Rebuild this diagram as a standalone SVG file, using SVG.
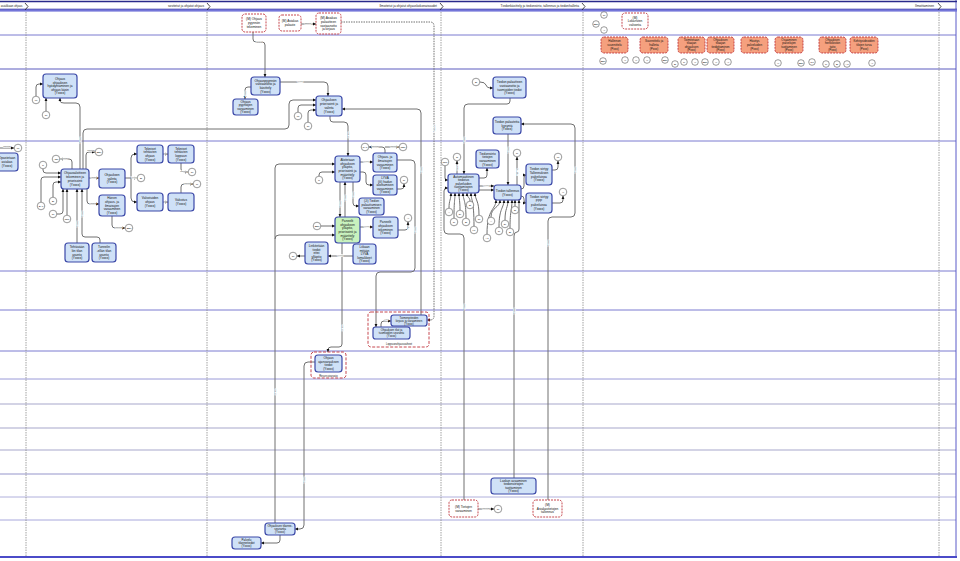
<svg xmlns="http://www.w3.org/2000/svg" width="960" height="561" viewBox="0 0 960 561">
<defs>
<marker id="a" viewBox="0 0 6 6" refX="5.6" refY="3" markerWidth="3.6" markerHeight="3.6" markerUnits="userSpaceOnUse" orient="auto"><path d="M0,0.4 L6,3 L0,5.6 z" fill="#111"/></marker>
</defs>
<style>
.b{fill:#cfe1f7;stroke:#3b48a8;stroke-width:1.2}
.g{fill:#c8f2be;stroke:#3b48a8;stroke-width:1.2}
.m{fill:#fff;stroke:#c0343c;stroke-width:0.9;stroke-dasharray:2 1}
.o{fill:#f5a07e;stroke:#c0343c;stroke-width:0.9;stroke-dasharray:2 1}
.grp{fill:none;stroke:#c0343c;stroke-width:0.9;stroke-dasharray:3 1.5}
.c{fill:#fff;stroke:#555;stroke-width:0.6}
.t{font-family:"Liberation Sans",Arial,sans-serif;font-size:3.2px;fill:#111;text-anchor:middle}
.ct{font-family:"Liberation Sans",Arial,sans-serif;font-size:2.5px;fill:#111;text-anchor:middle}
.l{fill:none;stroke:#707070;stroke-width:1;marker-end:url(#a)}
.d{stroke-dasharray:1.5 1}
.lab{font-family:"Liberation Sans",Arial,sans-serif;font-size:2.2px;fill:#444;text-anchor:middle;stroke:#fff;stroke-width:0.8;paint-order:stroke}
.hd{font-family:"Liberation Sans",Arial,sans-serif;font-size:3.2px;fill:#222;text-anchor:end}
.ln{stroke:#7b7bd0;stroke-width:1}
.lg{stroke:#c4c4dc;stroke-width:1.5}
.vd{stroke:#8a8a8a;stroke-width:0.8;stroke-dasharray:1.5 1}
.gl{font-family:"Liberation Sans",Arial,sans-serif;font-size:2.6px;fill:#222;text-anchor:middle}
</style>
<rect width="960" height="561" fill="#fff"/>

<g id="lanes">
<line class="ln" x1="0" y1="35" x2="956" y2="35"/>
<line x1="0" y1="69" x2="956" y2="69" stroke="#5c5cc0" stroke-width="1.2"/>
<line class="ln" x1="0" y1="141" x2="956" y2="141"/>
<line class="ln" x1="0" y1="271" x2="956" y2="271"/>
<line class="ln" x1="0" y1="310" x2="956" y2="310"/>
<line class="ln" x1="0" y1="351" x2="956" y2="351"/>
<line x1="0" y1="379" x2="956" y2="379" stroke="#9a9ad8" stroke-width="1"/>
<line class="lg" x1="0" y1="404" x2="956" y2="404"/>
<line class="lg" x1="0" y1="428" x2="956" y2="428"/>
<line class="lg" x1="0" y1="450" x2="956" y2="450"/>
<line x1="0" y1="474" x2="956" y2="474" stroke="#b8b8dc" stroke-width="1.5"/>
<line x1="0" y1="497" x2="956" y2="497" stroke="#b0b0dc" stroke-width="1"/>
<line x1="0" y1="520" x2="956" y2="520" stroke="#a8a8dc" stroke-width="1"/>
<line class="vd" x1="26" y1="12" x2="26" y2="556"/>
<line class="vd" x1="207" y1="12" x2="207" y2="556"/>
<line class="vd" x1="441" y1="12" x2="441" y2="556"/>
<line class="vd" x1="583" y1="12" x2="583" y2="556"/>
<line class="vd" x1="939" y1="12" x2="939" y2="556"/>
<line x1="956" y1="0" x2="956" y2="558" stroke="#5a5ac8" stroke-width="1"/>
<line x1="0" y1="557" x2="957" y2="557" stroke="#4b4bc8" stroke-width="2"/>
</g>

<g id="header">
<line x1="0" y1="1.5" x2="957" y2="1.5" stroke="#2a2a8a" stroke-width="1.5"/>
<rect x="0" y="9" width="957" height="2.6" fill="#7476d9"/>
<line x1="0" y1="9" x2="957" y2="9" stroke="#3a3aa0" stroke-width="0.6"/>
<polyline points="25,3 28,6.5 25,10" fill="none" stroke="#222" stroke-width="0.8"/>
<polyline points="207,3 210,6.5 207,10" fill="none" stroke="#222" stroke-width="0.8"/>
<polyline points="440,3 443,6.5 440,10" fill="none" stroke="#222" stroke-width="0.8"/>
<polyline points="582,3 585,6.5 582,10" fill="none" stroke="#222" stroke-width="0.8"/>
<polyline points="938,3 941,6.5 938,10" fill="none" stroke="#222" stroke-width="0.8"/>
<text class="hd" x="0.8" y="7" style="text-anchor:start;font-size:2.8px">asiakkaan ohjaus</text>
<text class="hd" x="204" y="7">sovitetut ja ohjatut ohjaus</text>
<text class="hd" x="437" y="7">Ilmoitetut ja ohjatut ohjauskokonaisuudet</text>
<text class="hd" x="579" y="7">Tiedonkäsittely ja tiedonsiirto, tallennus ja tiedonhallinta</text>
<text class="hd" x="934" y="7">Ilmoittaminen</text>
</g>

<g id="connectors">
<path class="l" d="M0,148 H14"/>
<path class="l" d="M80,169 V107 Q80,103 76,103 H64 Q60,103 60,101 V98"/>
<path class="l" d="M36,96 V87 Q36,84 39,84 H43"/>
<path class="l" d="M46,111 V98"/>
<path class="l" d="M83,169 V133 Q83,129 87,129 H285 Q289,129 289,125 V104 Q289,100 293,100 H316"/>
<path class="l" d="M72,169 V162 Q72,159 69,159 H60"/>
<path class="l" d="M86,169 V155 Q86,152 89,152 H95"/>
<path class="l" d="M43,169 V170 Q43,173 46,173 H61"/>
<path class="l" d="M41,202 V180 Q41,177 44,177 H61"/>
<path class="l" d="M53,197 V185 Q53,182 56,182 H61"/>
<path class="l" d="M57,214 H60 Q63,214 63,211 V189"/>
<path class="l" d="M67,215 V189"/>
<path class="l" d="M77,243 V189"/>
<path class="l" d="M100,243 V240 Q100,237 97,237 H85 Q82,237 82,234 V189"/>
<path class="l" d="M89,178 H99"/>
<path class="l" d="M87,189 V201 Q87,204 90,204 H99"/>
<path class="l" d="M112,216 V225 Q112,228 115,228 H125"/>
<path class="l" d="M125,178 H137"/>
<path class="l" d="M131,178 V158 Q131,154 135,154 H137"/>
<path class="l" d="M131,178 V198 Q131,202 135,202 H137"/>
<path class="l" d="M163,154 H168"/>
<path class="l" d="M181,163 V169 Q181,172 184,172 H188"/>
<path class="l" d="M163,202 H168"/>
<path class="l" d="M181,193 V187 Q181,184 184,184 H193"/>

<path class="l" d="M253,32 V39 Q253,42 256,42 H262 Q265,42 265,45 V77"/>
<path class="l" d="M301,24 H316"/>
<path class="l" d="M251,87 H248 Q245,87 245,90 V99"/>
<path class="l" d="M280,82 H324 Q328,82 328,86 V96"/>
<path class="l" d="M298,112 V108 Q298,105 301,105 H316"/>
<path class="l" d="M308,122 V113 Q308,110 311,110 H316"/>
<path class="l" d="M421,315 V113 Q421,109 417,109 H342"/>
<path class="l d" d="M341,22 H430 Q434,22 434,26 V316 Q434,320 430,320 H427"/>
<path class="l" d="M330,116 V119 Q330,122 333,122 H344 Q348,122 348,126 V156"/>
<path class="l" d="M275,523 V168 Q275,164 279,164 H335"/>
<path class="l" d="M275,239 Q275,235 279,235 H335"/>
<path class="l" d="M315,362 H308 Q304,362 304,366 V525 Q304,529 300,529 H295"/>
<path class="l" d="M342,243 V344 Q342,347 339,347 H331 Q328,347 328,350 V352"/>
<path class="l" d="M360,162 H373"/>
<path class="l" d="M360,172 H363 Q366,172 366,175 V182 Q366,185 369,185 H373"/>
<path class="l" d="M385,153 V150 Q385,147 382,147 H369"/>
<path class="l" d="M385,147 H399"/>
<path class="l" d="M397,189 H401 Q404,189 404,186 V184"/>
<path class="l" d="M319,176 V175 Q319,172 322,172 H335"/>
<path class="l" d="M353,182 V203 Q353,206 356,206 H359"/>
<path class="l" d="M340,182 V217"/>
<path class="l" d="M345,217 V182"/>
<path class="l" d="M321,226 H335"/>
<path class="l" d="M360,227 H373"/>
<path class="l" d="M398,230 H405 Q408,230 408,227 V222"/>
<path class="l" d="M305,256 H297"/>
<path class="l" d="M353,256 H328"/>
<path class="l" d="M397,160 H411 Q415,160 415,164 V268 Q415,272 411,272 H380 Q376,272 376,276 V327"/>
<path class="l" d="M381,327 V324 Q381,321 384,321 H391"/>
<path class="l" d="M280,535 V540 Q280,543 277,543 H261"/>

<path class="l" d="M480,82 Q485,82 486,85 Q487,88 490,88 H493"/>
<path class="l" d="M510,98 V101 Q510,104 507,104 H468 Q464,104 464,108 V174"/>
<path class="l" d="M508,134 V185"/>
<path class="l" d="M548,500 V221 Q548,217 552,217 H571 Q575,217 575,213 V128 Q575,124 571,124 H521"/>
<path class="l" d="M514,478 V236 Q514,232 517,232 Q519,232 519,229 V200"/>
<path class="l" d="M464,500 V238 Q464,234 460,234 H448 Q444,234 444,230 V191 Q444,188 447,188 H448"/>
<path class="l" d="M478,509 H494"/>
<path class="l" d="M445,166 V178 Q445,180 447,180 H448"/>
<path class="l" d="M457,174 V161"/>
<path class="l" d="M479,178 H484 Q487,178 487,175 V168"/>
<path class="l" d="M479,186 H494"/>
<path class="l" d="M479,190 H494"/>
<path class="l" d="M517,185 V157"/>
<path class="l" d="M521,189 Q524,189 524,186 V178 Q524,175 526,175"/>
<path class="l" d="M521,196 Q524,196 524,199 V200 Q524,203 526,203"/>
<path class="l" d="M552,170 H555 Q558,170 558,167 V161"/>
<path class="l" d="M552,203 H560 Q563,203 563,200 V196"/>
<path class="l" d="M449,208 C449,200 451,200 451,193"/>
<path class="l" d="M454,218 C454,200 455,200 455,193"/>
<path class="l" d="M460,210 C460,200 459,200 459,193"/>
<path class="l" d="M466,218 C466,200 463,200 463,193"/>
<path class="l" d="M470,201 C470,197 467,198 467,193"/>
<path class="l" d="M474,226 C474,200 471,200 471,193"/>
<path class="l" d="M479,215 C479,200 475,200 475,193"/>
<path class="l" d="M487,234 C487,208 496,210 496,200"/>
<path class="l" d="M491,217 C491,207 500,208 500,200"/>
<path class="l" d="M499,227 C499,208 504,208 504,200"/>
<path class="l" d="M505,220 C505,208 508,208 508,200"/>
<path class="l" d="M510,228 C510,210 512,210 512,200"/>
<path class="l" d="M515,206 V200"/>

<text class="lab" x="7" y="147">ilmoitus</text>
<text class="lab" transform="translate(80.8,140) rotate(-90)">Yxxxx</text>
<text class="lab" x="64" y="158.5">ilmoitus</text>
<text class="lab" x="91" y="151">ilmoitus</text>
<text class="lab" transform="translate(77.8,224) rotate(-90)">Yxxxx</text>
<text class="lab" transform="translate(82.8,214) rotate(-90)">Yxxxx</text>
<text class="lab" x="94" y="177.5">ohjaus</text>
<text class="lab" x="93" y="203.5">ohjaus</text>
<text class="lab" x="119" y="227.5">ilmoitus</text>
<text class="lab" x="134" y="177.5">Yxxxx</text>
<text class="lab" x="165.5" y="153.5">ohj</text>
<text class="lab" x="165.5" y="201.5">ohj</text>
<text class="lab" x="184" y="171.5">ilmoitus</text>
<text class="lab" x="188" y="183.5">ilmoitus</text>
<text class="lab" x="259" y="42.8">ohjaus</text>
<text class="lab" x="308" y="23.8">palaute</text>
<text class="lab" transform="translate(245.8,94) rotate(-90)">Yxxxx</text>
<text class="lab" x="300" y="81.8">Yxxxx</text>
<text class="lab" transform="translate(421.8,170) rotate(-90)">Yxxxx</text>
<text class="lab" transform="translate(434.8,128) rotate(-90)">palaute</text>
<text class="lab" transform="translate(348.8,135) rotate(-90)">ohjaus</text>
<text class="lab" transform="translate(275.8,392) rotate(-90)">ohjaus</text>
<text class="lab" transform="translate(304.8,480) rotate(-90)">Yxxxx</text>
<text class="lab" transform="translate(342.8,328) rotate(-90)">ohjaus</text>
<text class="lab" x="366" y="161.5">Yxxxx</text>
<text class="lab" x="375" y="146.5">ilmoitus</text>
<text class="lab" x="394" y="146.5">ilmoitus</text>
<text class="lab" transform="translate(353.8,195) rotate(-90)">Yxxxx</text>
<text class="lab" transform="translate(340.8,204) rotate(-90)">Yxxxx</text>
<text class="lab" transform="translate(345.8,198) rotate(-90)">Yxxxx</text>
<text class="lab" x="366.5" y="226.5">Yxxxx</text>
<text class="lab" transform="translate(408.8,228) rotate(-90)">ilm.</text>
<text class="lab" x="340" y="255.5">Yxxxx</text>
<text class="lab" transform="translate(415.8,230) rotate(-90)">Yxxxx</text>
<text class="lab" x="386" y="320">Yxx</text>
<text class="lab" transform="translate(464.8,140) rotate(-90)">Yxxxx</text>
<text class="lab" transform="translate(508.8,150) rotate(-90)">Yxxxx</text>
<text class="lab" transform="translate(548.8,243) rotate(-90)">Yxxxx</text>
<text class="lab" transform="translate(575.8,170) rotate(-90)">Yxxxx</text>
<text class="lab" transform="translate(514.8,311) rotate(-90)">Yxxxx</text>
<text class="lab" transform="translate(464.8,307) rotate(-90)">Yxxxx</text>
<text class="lab" x="486" y="508.5">ilmoitus</text>
<text class="lab" transform="translate(457.8,168) rotate(-90)">Yxxx</text>
<text class="lab" x="486" y="185.5">Yxxxx</text>
<text class="lab" transform="translate(517.8,172) rotate(-90)">ilmoitus</text>
</g>

<g id="n_opastetaan"><rect class="b" x="-4" y="153" width="22" height="18" rx="3"/><text class="t"><tspan x="7" y="159.3">Opastetaan</tspan><tspan x="7" dy="3.8">asiakas</tspan><tspan x="7" dy="3.8">(Yxxxx)</tspan></text></g>
<g id="n_mi0"><circle class="c" cx="18" cy="148" r="3.8"/><text class="ct" x="18" y="148.9">Mi</text></g>

<g id="n_ohjaus_kasin"><rect class="b" x="43" y="74" width="34" height="24" rx="3"/><text class="t"><tspan x="60" y="79.9">Ohjaus</tspan><tspan x="60" dy="3.6">ohjauksen</tspan><tspan x="60" dy="3.6">hyödyntäminen ja</tspan><tspan x="60" dy="3.6">ohjaus käsin</tspan><tspan x="60" dy="3.6">(Yxxxx)</tspan></text></g>
<g id="n_aloite"><rect class="b" x="61" y="169" width="28" height="20" rx="3"/><text class="t"><tspan x="75" y="174.4">Ohjausaloitteen</tspan><tspan x="75" dy="3.8">tekeminen ja</tspan><tspan x="75" dy="3.8">priorisointi</tspan><tspan x="75" dy="3.8">(Yxxxx)</tspan></text></g>
<g id="n_valinta"><rect class="b" x="99" y="169" width="26" height="19" rx="3"/><text class="t"><tspan x="112" y="175.8">Ohjauksen</tspan><tspan x="112" dy="3.8">valinta</tspan><tspan x="112" dy="3.8">(Yxxxx)</tspan></text></g>
<g id="n_hanen"><rect class="b" x="99" y="195" width="26" height="21" rx="3"/><text class="t"><tspan x="112" y="199.4">Hänen</tspan><tspan x="112" dy="3.6">ohjaus- ja</tspan><tspan x="112" dy="3.6">ilmaisujen</tspan><tspan x="112" dy="3.6">varaaminen</tspan><tspan x="112" dy="3.6">(Yxxxx)</tspan></text></g>
<g id="n_tekniset"><rect class="b" x="137" y="145" width="26" height="18" rx="3"/><text class="t"><tspan x="150" y="149.7">Tekniset</tspan><tspan x="150" dy="3.6">tehtävien</tspan><tspan x="150" dy="3.6">ohjaus</tspan><tspan x="150" dy="3.6">(Yxxxx)</tspan></text></g>
<g id="n_tek_loppuun"><rect class="b" x="168" y="145" width="26" height="18" rx="3"/><text class="t"><tspan x="181" y="149.7">Tekniset</tspan><tspan x="181" dy="3.6">tehtävien</tspan><tspan x="181" dy="3.6">loppuun</tspan><tspan x="181" dy="3.6">(Yxxxx)</tspan></text></g>
<g id="n_valvotuiden"><rect class="b" x="137" y="193" width="26" height="18" rx="3"/><text class="t"><tspan x="150" y="199.3">Valvotuiden</tspan><tspan x="150" dy="3.8">ohjaus</tspan><tspan x="150" dy="3.8">(Yxxxx)</tspan></text></g>
<g id="n_valvotus"><rect class="b" x="168" y="193" width="26" height="18" rx="3"/><text class="t"><tspan x="181" y="201.2">Valvotus</tspan><tspan x="181" dy="3.8">(Yxxxx)</tspan></text></g>
<g id="n_tehtava"><rect class="b" x="65" y="243" width="24" height="19" rx="3"/><text class="t"><tspan x="77" y="247.9">Tehtävään</tspan><tspan x="77" dy="3.8">liin tilan</tspan><tspan x="77" dy="3.8">asunto</tspan><tspan x="77" dy="3.8">(Yxxxx)</tspan></text></g>
<g id="n_tunneli"><rect class="b" x="92" y="243" width="24" height="19" rx="3"/><text class="t"><tspan x="104" y="247.9">Tunnelin</tspan><tspan x="104" dy="3.8">-ellän tilan</tspan><tspan x="104" dy="3.8">asunto</tspan><tspan x="104" dy="3.8">(Yxxxx)</tspan></text></g>
<g id="n_c2"><circle class="c" cx="36" cy="100" r="3.8"/><text class="ct" x="36" y="100.9">Mi</text>
<circle class="c" cx="46" cy="115" r="3.8"/><text class="ct" x="46" y="115.9">Qi</text>
<circle class="c" cx="56" cy="159" r="3.8"/><text class="ct" x="56" y="159.9">AB1</text>
<circle class="c" cx="99" cy="152" r="3.8"/><text class="ct" x="99" y="152.9">BB0</text>
<circle class="c" cx="43" cy="165" r="3.8"/><text class="ct" x="43" y="165.9">Ji</text>
<circle class="c" cx="41" cy="206" r="3.8"/><text class="ct" x="41" y="206.9">BA1</text>
<circle class="c" cx="53" cy="201" r="3.8"/><text class="ct" x="53" y="201.9">Bi</text>
<circle class="c" cx="53" cy="214" r="3.8"/><text class="ct" x="53" y="214.9">Qi</text>
<circle class="c" cx="67" cy="219" r="3.8"/><text class="ct" x="67" y="219.9">CD1</text>
<circle class="c" cx="129" cy="228" r="3.8"/><text class="ct" x="129" y="228.9">BB0</text>
<circle class="c" cx="141" cy="178" r="3.8"/><text class="ct" x="141" y="178.9">Bi</text>
<circle class="c" cx="192" cy="172" r="3.8"/><text class="ct" x="192" y="172.9">Qi</text>
<circle class="c" cx="197" cy="184" r="3.8"/><text class="ct" x="197" y="184.9">Pi</text></g>

<g id="n_m_pyynto"><rect class="m" x="242" y="14" width="24" height="18" rx="3"/><text class="t"><tspan x="254" y="20.3">(M) Ohjaus</tspan><tspan x="254" dy="3.8">pyynnön</tspan><tspan x="254" dy="3.8">tekeminen</tspan></text></g>
<g id="n_m_palaute"><rect class="m" x="279" y="15" width="22" height="16" rx="3"/><text class="t"><tspan x="290" y="22.2">(M) Asiakas</tspan><tspan x="290" dy="3.8">palaute</tspan></text></g>
<g id="n_m_kirjaus"><rect class="m" x="316" y="13" width="25" height="21" rx="3"/><text class="t"><tspan x="328.5" y="18.9">(M) Asiakas</tspan><tspan x="328.5" dy="3.8">palautteen</tspan><tspan x="328.5" dy="3.8">vastaanotto</tspan><tspan x="328.5" dy="3.8">ja kirjaus</tspan></text></g>
<g id="n_pyynnon_kasittely"><rect class="b" x="251" y="77" width="29" height="18" rx="3"/><text class="t"><tspan x="265.5" y="81.7">Ohjauspyynnön</tspan><tspan x="265.5" dy="3.6">vastaanotto ja</tspan><tspan x="265.5" dy="3.6">käsittely</tspan><tspan x="265.5" dy="3.6">(Yxxxx)</tspan></text></g>
<g id="n_pyyntojen"><rect class="b" x="233" y="99" width="25" height="16" rx="3"/><text class="t"><tspan x="245.5" y="102.9">Ohjaus</tspan><tspan x="245.5" dy="3.5">pyyntöjen</tspan><tspan x="245.5" dy="3.5">varaaminen</tspan><tspan x="245.5" dy="3.5">(Yxxxx)</tspan></text></g>
<g id="n_priorisointi"><rect class="b" x="316" y="96" width="26" height="20" rx="3"/><text class="t"><tspan x="329" y="101.4">Ohjauksen</tspan><tspan x="329" dy="3.8">priorisointi ja</tspan><tspan x="329" dy="3.8">valinta</tspan><tspan x="329" dy="3.8">(Yxxxx)</tspan></text></g>
<g id="n_aloitetaan"><rect class="b" x="335" y="156" width="25" height="26" rx="3"/><text class="t"><tspan x="347.5" y="161.1">Aloitetaan</tspan><tspan x="347.5" dy="3.6">ohjauksen</tspan><tspan x="347.5" dy="3.6">ylläpito,</tspan><tspan x="347.5" dy="3.6">priorisointi ja</tspan><tspan x="347.5" dy="3.6">määrittely</tspan><tspan x="347.5" dy="3.6">(Yxxxx)</tspan></text></g>
<g id="n_ilmaisujen"><rect class="b" x="373" y="153" width="24" height="19" rx="3"/><text class="t"><tspan x="385" y="157.9">Ohjaus- ja</tspan><tspan x="385" dy="3.8">ilmaisujen</tspan><tspan x="385" dy="3.8">varaaminen</tspan><tspan x="385" dy="3.8">(Yxxxx)</tspan></text></g>
<g id="n_lyva"><rect class="b" x="373" y="175" width="24" height="20" rx="3"/><text class="t"><tspan x="385" y="179.1">LYVA</tspan><tspan x="385" dy="3.5">(ili) hadun</tspan><tspan x="385" dy="3.5">aloittamisen</tspan><tspan x="385" dy="3.5">varaaminen</tspan><tspan x="385" dy="3.5">(Yxxxx)</tspan></text></g>
<g id="n_palauttumisen"><rect class="b" x="359" y="198" width="25" height="17" rx="3"/><text class="t"><tspan x="371.5" y="202.2">(Ji) Tiedon</tspan><tspan x="371.5" dy="3.6">palauttumisen</tspan><tspan x="371.5" dy="3.6">varaaminen</tspan><tspan x="371.5" dy="3.6">(Yxxxx)</tspan></text></g>
<g id="n_paneelit"><rect class="g" x="335" y="217" width="25" height="26" rx="3"/><text class="t"><tspan x="347.5" y="222.1">Paneelit</tspan><tspan x="347.5" dy="3.6">ohjauksen</tspan><tspan x="347.5" dy="3.6">ylläpito,</tspan><tspan x="347.5" dy="3.6">priorisointi ja</tspan><tspan x="347.5" dy="3.6">määrittely</tspan><tspan x="347.5" dy="3.6">(Yxxxx)</tspan></text></g>
<g id="n_paneelit_tek"><rect class="b" x="373" y="217" width="25" height="21" rx="3"/><text class="t"><tspan x="385.5" y="222.9">Paneelit</tspan><tspan x="385.5" dy="3.8">ohjauksen</tspan><tspan x="385.5" dy="3.8">tekeminen</tspan><tspan x="385.5" dy="3.8">(Yxxxx)</tspan></text></g>
<g id="n_linkitetaan"><rect class="b" x="305" y="242" width="23" height="22" rx="3"/><text class="t"><tspan x="316.5" y="246.9">Linkitetään</tspan><tspan x="316.5" dy="3.6">tiedot</tspan><tspan x="316.5" dy="3.6">ettei</tspan><tspan x="316.5" dy="3.6">ylläpito</tspan><tspan x="316.5" dy="3.6">(Yxxxx)</tspan></text></g>
<g id="n_liikaan"><rect class="b" x="353" y="244" width="23" height="20" rx="3"/><text class="t"><tspan x="364.5" y="248.1">Liikaan</tspan><tspan x="364.5" dy="3.5">mitään</tspan><tspan x="364.5" dy="3.5">LYVA</tspan><tspan x="364.5" dy="3.5">lomakkeet</tspan><tspan x="364.5" dy="3.5">(Yxxxx)</tspan></text></g>
<g id="n_loppuun_grp"><rect class="grp" x="368" y="312" width="61" height="35" rx="3"/><text class="gl" x="399" y="345.2">Loppuunohjausvaiheet</text></g>
<g id="n_toimenpiteiden"><rect class="b" x="391" y="315" width="36" height="11" rx="2.5"/><text class="t" style="font-size:2.8px"><tspan x="409" y="318.6">Toimenpiteiden</tspan><tspan x="409" dy="3">kirjaus ja varaaminen</tspan><tspan x="409" dy="3">(Yxxxx)</tspan></text></g>
<g id="n_tilat"><rect class="b" x="373" y="327" width="37" height="12" rx="2.5"/><text class="t" style="font-size:2.8px"><tspan x="391.5" y="330.9">Ohjauksen tilat ja</tspan><tspan x="391.5" dy="3.2">tuomioiden seuranta</tspan><tspan x="391.5" dy="3.2">(Yxxxx)</tspan></text></g>
<g id="n_ajanvaraus_grp"><rect class="grp" x="311" y="352" width="35" height="26" rx="3"/><text class="gl" x="328.5" y="376.8">Resurssivarasto</text></g>
<g id="n_ajanvaraus"><rect class="b" x="315" y="355" width="27" height="17" rx="3"/><text class="t"><tspan x="328.5" y="359.2">Ohjaus</tspan><tspan x="328.5" dy="3.6">ajanvarauksen</tspan><tspan x="328.5" dy="3.6">tiedot</tspan><tspan x="328.5" dy="3.6">(Yxxxx)</tspan></text></g>
<g id="n_tilanneseuranta"><rect class="b" x="265" y="523" width="30" height="12" rx="3"/><text class="t" style="font-size:3px"><tspan x="280" y="526.8">Ohjauksen tilanne-</tspan><tspan x="280" dy="3.3">seuranta</tspan><tspan x="280" dy="3.3">(Yxxxx)</tspan></text></g>
<g id="n_palvelu"><rect class="b" x="232" y="537" width="29" height="12" rx="3"/><text class="t" style="font-size:3px"><tspan x="246.5" y="540.8">Palvelu</tspan><tspan x="246.5" dy="3.3">tilannetiedot</tspan><tspan x="246.5" dy="3.3">(Yxxxx)</tspan></text></g>
<g id="n_c3"><circle class="c" cx="298" cy="116" r="3.8"/><text class="ct" x="298" y="116.9">Mi</text>
<circle class="c" cx="308" cy="126" r="3.8"/><text class="ct" x="308" y="126.9">Qi</text>
<circle class="c" cx="365" cy="147" r="3.8"/><text class="ct" x="365" y="147.9">CA1</text>
<circle class="c" cx="403" cy="147" r="3.8"/><text class="ct" x="403" y="147.9">CB1</text>
<circle class="c" cx="404" cy="180" r="3.8"/><text class="ct" x="404" y="180.9">Ci</text>
<circle class="c" cx="319" cy="180" r="3.8"/><text class="ct" x="319" y="180.9">Ji</text>
<circle class="c" cx="317" cy="226" r="3.8"/><text class="ct" x="317" y="226.9">BB7</text>
<circle class="c" cx="408" cy="218" r="3.8"/><text class="ct" x="408" y="218.9">Ai</text>
<circle class="c" cx="293" cy="256" r="3.8"/><text class="ct" x="293" y="256.9">Qi</text></g>

<g id="n_palautteen_vast"><rect class="b" x="493" y="77" width="33" height="21" rx="3"/><text class="t"><tspan x="509.5" y="82.9">Tiedon palautteen</tspan><tspan x="509.5" dy="3.8">vastaanotto ja</tspan><tspan x="509.5" dy="3.8">tuomioiden tiedot</tspan><tspan x="509.5" dy="3.8">(Yxxxx)</tspan></text></g>
<g id="n_kysynta"><rect class="b" x="493" y="117" width="28" height="17" rx="3"/><text class="t"><tspan x="507" y="122.8">Tiedon palautetta</tspan><tspan x="507" dy="3.8">kysyntä</tspan><tspan x="507" dy="3.8">(Yxxxx)</tspan></text></g>
<g id="n_siirtojen"><rect class="b" x="476" y="150" width="23" height="18" rx="3"/><text class="t"><tspan x="487.5" y="154.7">Tiedonsiirto</tspan><tspan x="487.5" dy="3.6">tietojen</tspan><tspan x="487.5" dy="3.6">varaaminen</tspan><tspan x="487.5" dy="3.6">(Yxxxx)</tspan></text></g>
<g id="n_automaattinen"><rect class="b" x="448" y="174" width="31" height="19" rx="3"/><text class="t"><tspan x="463.5" y="177.8">Automaattinen</tspan><tspan x="463.5" dy="3.4">tiedotus</tspan><tspan x="463.5" dy="3.4">palveluiden</tspan><tspan x="463.5" dy="3.4">tuottamiseen</tspan><tspan x="463.5" dy="3.4">(Yxxxx)</tspan></text></g>
<g id="n_tallennus"><rect class="b" x="494" y="185" width="27" height="15" rx="3"/><text class="t"><tspan x="507.5" y="191.7">Tiedon tallennus</tspan><tspan x="507.5" dy="3.8">(Yxxxx)</tspan></text></g>
<g id="n_tallennuksen"><rect class="b" x="526" y="164" width="26" height="21" rx="3"/><text class="t"><tspan x="539" y="169.9">Tiedon siirtyy</tspan><tspan x="539" dy="3.8">Tallennuksen</tspan><tspan x="539" dy="3.8">palveluissa</tspan><tspan x="539" dy="3.8">(Yxxxx)</tspan></text></g>
<g id="n_ppp"><rect class="b" x="526" y="193" width="26" height="20" rx="3"/><text class="t"><tspan x="539" y="198.4">Tiedon siirtyy</tspan><tspan x="539" dy="3.8">PPP</tspan><tspan x="539" dy="3.8">palveluissa</tspan><tspan x="539" dy="3.8">(Yxxxx)</tspan></text></g>
<g id="n_laskun"><rect class="b" x="491" y="478" width="45" height="16" rx="3"/><text class="t"><tspan x="513.5" y="481.9">Laskun avaaminen</tspan><tspan x="513.5" dy="3.5">tiedonsiirtojen</tspan><tspan x="513.5" dy="3.5">tuottaminen</tspan><tspan x="513.5" dy="3.5">(Yxxxx)</tspan></text></g>
<g id="n_m_tietojen"><rect class="m" x="449" y="500" width="29" height="17" rx="3"/><text class="t"><tspan x="463.5" y="507.7">(M) Tietojen</tspan><tspan x="463.5" dy="3.8">varaaminen</tspan></text></g>
<g id="n_m_asiakastiedot"><rect class="m" x="533" y="500" width="29" height="17" rx="3"/><text class="t"><tspan x="547.5" y="505.8">(M)</tspan><tspan x="547.5" dy="3.8">Asiakastietojen</tspan><tspan x="547.5" dy="3.8">tallennus</tspan></text></g>
<g id="n_c4"><circle class="c" cx="476" cy="82" r="3.8"/><text class="ct" x="476" y="82.9">Bi</text>
<circle class="c" cx="445" cy="162" r="3.8"/><text class="ct" x="445" y="162.9">CD1</text>
<circle class="c" cx="457" cy="157" r="3.8"/><text class="ct" x="457" y="157.9">Zi</text>
<circle class="c" cx="517" cy="153" r="3.8"/><text class="ct" x="517" y="153.9">Pi</text>
<circle class="c" cx="558" cy="157" r="3.8"/><text class="ct" x="558" y="157.9">Mi</text>
<circle class="c" cx="563" cy="192" r="3.8"/><text class="ct" x="563" y="192.9">Yi</text>
<circle class="c" cx="449" cy="212" r="3.8"/><text class="ct" x="449" y="212.9">A</text>
<circle class="c" cx="454" cy="222" r="3.8"/><text class="ct" x="454" y="222.9">Ci</text>
<circle class="c" cx="460" cy="214" r="3.8"/><text class="ct" x="460" y="214.9">Di</text>
<circle class="c" cx="466" cy="222" r="3.8"/><text class="ct" x="466" y="222.9">Bi</text>
<circle class="c" cx="470" cy="205" r="3.8"/><text class="ct" x="470" y="205.9">Ei</text>
<circle class="c" cx="474" cy="230" r="3.8"/><text class="ct" x="474" y="230.9">L1</text>
<circle class="c" cx="479" cy="219" r="3.8"/><text class="ct" x="479" y="219.9">Qi</text>
<circle class="c" cx="487" cy="238" r="3.8"/><text class="ct" x="487" y="238.9">A1</text>
<circle class="c" cx="491" cy="221" r="3.8"/><text class="ct" x="491" y="221.9">A</text>
<circle class="c" cx="499" cy="231" r="3.8"/><text class="ct" x="499" y="231.9">Ci</text>
<circle class="c" cx="505" cy="224" r="3.8"/><text class="ct" x="505" y="224.9">Di</text>
<circle class="c" cx="510" cy="232" r="3.8"/><text class="ct" x="510" y="232.9">Bi</text>
<circle class="c" cx="515" cy="210" r="3.8"/><text class="ct" x="515" y="210.9">Ei</text>
<circle class="c" cx="498" cy="509" r="3.8"/><text class="ct" x="498" y="509.9">Qi</text></g>

<g id="n_m_lokarivien"><rect class="m" x="622" y="13" width="26" height="16" rx="3"/><text class="t"><tspan x="635" y="18.5">(M)</tspan><tspan x="635" dy="3.6">Lokarivien</tspan><tspan x="635" dy="3.6">valvonta</tspan></text></g>
<g id="n_o1"><rect class="o" x="601" y="37" width="27" height="16" rx="3"/><text class="t" style="font-size:3px"><tspan x="614.5" y="42.4">Hallinnon</tspan><tspan x="614.5" dy="3.6">suunnittelu</tspan><tspan x="614.5" dy="3.6">(Pxxx)</tspan></text></g>
<g id="n_o2"><rect class="o" x="640" y="37" width="28" height="16" rx="3"/><text class="t" style="font-size:3px"><tspan x="654" y="42.4">Suunnittelu ja</tspan><tspan x="654" dy="3.6">hallinta</tspan><tspan x="654" dy="3.6">(Pxxx)</tspan></text></g>
<g id="n_o3"><rect class="o" x="678" y="37" width="27" height="16" rx="3"/><text class="t" style="font-size:3px"><tspan x="691.5" y="40.9">Toimitetaan</tspan><tspan x="691.5" dy="3.4">tilaajan</tspan><tspan x="691.5" dy="3.4">ohjauksen</tspan><tspan x="691.5" dy="3.4">(Pxxx)</tspan></text></g>
<g id="n_o4"><rect class="o" x="707" y="37" width="27" height="16" rx="3"/><text class="t" style="font-size:3px"><tspan x="720.5" y="40.9">Ohjauksen</tspan><tspan x="720.5" dy="3.4">tilaajan</tspan><tspan x="720.5" dy="3.4">tiedottaminen</tspan><tspan x="720.5" dy="3.4">(Pxxx)</tspan></text></g>
<g id="n_o5"><rect class="o" x="741" y="37" width="27" height="16" rx="3"/><text class="t" style="font-size:3px"><tspan x="754.5" y="42.4">Hävitys</tspan><tspan x="754.5" dy="3.6">palveluiden</tspan><tspan x="754.5" dy="3.6">(Pxxx)</tspan></text></g>
<g id="n_o6"><rect class="o" x="775" y="37" width="28" height="16" rx="3"/><text class="t" style="font-size:3px"><tspan x="789" y="40.9">Osaaminen</tspan><tspan x="789" dy="3.4">palvelujen</tspan><tspan x="789" dy="3.4">tuottaminen</tspan><tspan x="789" dy="3.4">(Pxxx)</tspan></text></g>
<g id="n_o7"><rect class="o" x="819" y="37" width="27" height="16" rx="3"/><text class="t" style="font-size:3px"><tspan x="832.5" y="40.9">Ohjauksen</tspan><tspan x="832.5" dy="3.4">henkilöstön</tspan><tspan x="832.5" dy="3.4">taito</tspan><tspan x="832.5" dy="3.4">(Pxxx)</tspan></text></g>
<g id="n_o8"><rect class="o" x="850" y="37" width="28" height="16" rx="3"/><text class="t" style="font-size:3px"><tspan x="864" y="42.4">Kehitysideoiden</tspan><tspan x="864" dy="3.6">tilojen turva</tspan><tspan x="864" dy="3.6">(Pxxx)</tspan></text></g>
<g id="n_c5"><circle class="c" cx="596" cy="24" r="3.3"/><text class="ct" x="596" y="24.9">BB1</text>
<circle class="c" cx="604" cy="15" r="3.3"/><text class="ct" x="604" y="15.9">Qi</text>
<circle class="c" cx="604" cy="30" r="3.3"/><text class="ct" x="604" y="30.9">Ai</text>
<circle class="c" cx="603" cy="61" r="3.3"/><text class="ct" x="603" y="61.9">BB1</text>
<circle class="c" cx="625" cy="60" r="3.3"/><text class="ct" x="625" y="60.9">Yi</text>
<circle class="c" cx="636" cy="60" r="3.3"/><text class="ct" x="636" y="60.9">Yi</text>
<circle class="c" cx="647" cy="60" r="3.3"/><text class="ct" x="647" y="60.9">Yi</text>
<circle class="c" cx="665" cy="60" r="3.3"/><text class="ct" x="665" y="60.9">BB1</text>
<circle class="c" cx="675" cy="64" r="3.3"/><text class="ct" x="675" y="64.9">Bi</text>
<circle class="c" cx="684" cy="62" r="3.3"/><text class="ct" x="684" y="62.9">Ti</text>
<circle class="c" cx="695" cy="62" r="3.3"/><text class="ct" x="695" y="62.9">Yi</text>
<circle class="c" cx="705" cy="62" r="3.3"/><text class="ct" x="705" y="62.9">BB1</text>
<circle class="c" cx="716" cy="62" r="3.3"/><text class="ct" x="716" y="62.9">Yi</text>
<circle class="c" cx="728" cy="62" r="3.3"/><text class="ct" x="728" y="62.9">Ai</text>
<circle class="c" cx="778" cy="63" r="3.3"/><text class="ct" x="778" y="63.9">Yi</text>
<circle class="c" cx="801" cy="63" r="3.3"/><text class="ct" x="801" y="63.9">BB1</text>
<circle class="c" cx="812" cy="62" r="3.3"/><text class="ct" x="812" y="62.9">CT</text>
<circle class="c" cx="826" cy="64" r="3.3"/><text class="ct" x="826" y="64.9">Ti</text>
<circle class="c" cx="837" cy="64" r="3.3"/><text class="ct" x="837" y="64.9">Bi</text>
<circle class="c" cx="847" cy="64" r="3.3"/><text class="ct" x="847" y="64.9">A1</text>
<circle class="c" cx="872" cy="63" r="3.3"/><text class="ct" x="872" y="63.9">Ai</text></g>
</svg>
